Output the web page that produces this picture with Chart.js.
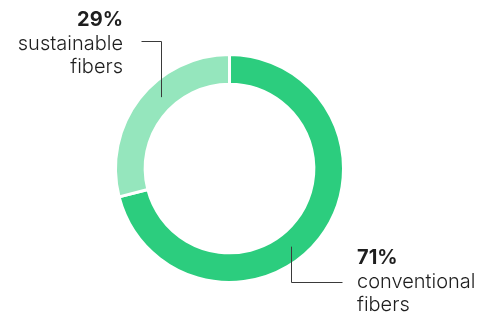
<!DOCTYPE html>
<html>
<head>
<meta charset="utf-8">
<script src="https://cdn.jsdelivr.net/npm/chart.js@4.4.1/dist/chart.umd.min.js"></script>
<style>
  html, body { margin: 0; padding: 0; background: #fff; }
  #wrap { width: 483px; height: 316px; }
</style>
</head>
<body>
<div id="wrap"><canvas id="donut" width="483" height="316"></canvas></div>
<script>
// Données du graphique
const labels = ['conventional fibers', 'sustainable fibers'];
const values = [71, 29];
const pctLabels = ['71%', '29%'];
const nameLines = [['conventional', 'fibers'], ['sustainable', 'fibers']];
const colors = ['#2ccd7e', '#95e6bd'];

// Étiquettes avec traits de rappel
const calloutPlugin = {
    id: 'callouts',
    afterDraw(chart) {
        const ctx = chart.ctx;
        const arc = chart.getDatasetMeta(0).data[0];
        const cx = arc.x, cy = arc.y;
        const mid = (arc.outerRadius + arc.innerRadius) / 2;

        ctx.save();
        ctx.strokeStyle = '#3a3a3a';
        ctx.lineWidth = 1;

        // 71% - à droite en bas
        let a = 52 * Math.PI / 180;
        let px = Math.round(cx + mid * Math.cos(a)) + 0.5;
        let py = cy + mid * Math.sin(a);
        ctx.beginPath();
        ctx.moveTo(px, py);
        ctx.lineTo(px, 282.5);
        ctx.lineTo(px + 51, 282.5);
        ctx.stroke();

        ctx.fillStyle = '#1e1e1e';
        ctx.textAlign = 'left';
        ctx.textBaseline = 'middle';
        ctx.font = '700 20px Inter';
        ctx.fillText(pctLabels[0], 357, 258);
        ctx.font = '300 20px Inter';
        ctx.fillText(nameLines[0][0], 357, 282);
        ctx.fillText(nameLines[0][1], 357, 305);

        // 29% - à gauche en haut
        a = -134 * Math.PI / 180;
        px = Math.round(cx + mid * Math.cos(a)) + 0.5;
        py = cy + mid * Math.sin(a);
        ctx.beginPath();
        ctx.moveTo(px, py);
        ctx.lineTo(px, 41.5);
        ctx.lineTo(px - 20, 41.5);
        ctx.stroke();

        ctx.textAlign = 'right';
        ctx.font = '700 20px Inter';
        ctx.fillText(pctLabels[1], 123, 20);
        ctx.font = '300 20px Inter';
        ctx.fillText(nameLines[1][0], 123, 44);
        ctx.fillText(nameLines[1][1], 123, 67);
        ctx.restore();
    }
};

const ctx = document.getElementById('donut').getContext('2d');
const donut = new Chart(ctx, {
    type: 'doughnut',
    data: {
        labels: labels,
        datasets: [{
            data: values,
            backgroundColor: colors,
            borderColor: '#ffffff',
            borderWidth: 3,
            hoverOffset: 0
        }]
    },
    options: {
        responsive: false,
        animation: false,
        cutout: '74%',
        layout: {
            padding: { top: 53, bottom: 32, left: 0, right: 24 }
        },
        plugins: {
            legend: { display: false },
            tooltip: { enabled: false }
        }
    },
    plugins: [calloutPlugin]
});
</script>
</body>
</html>
